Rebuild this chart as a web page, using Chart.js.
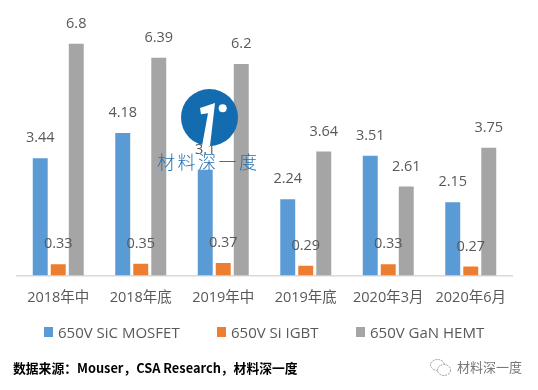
<!DOCTYPE html>
<html>
<head>
<meta charset="utf-8">
<script src="https://cdn.jsdelivr.net/npm/chart.js@4"></script>
<style>
  html, body { margin: 0; padding: 0; background: #fff; }
  #wrap { position: relative; width: 538px; height: 390px; overflow: hidden; font-family: "Open Sans", "Noto Sans CJK SC", sans-serif; }
  #chart { position: absolute; left: 0; top: 0; }
  .legend-item { position: absolute; top: 321px; height: 22px; line-height: 22px; font-size: 15px; color: #595959; white-space: nowrap; }
  .legend-item i { position: absolute; left: 0; top: 6px; width: 9px; height: 10px; }
  .legend-item span { position: absolute; left: 14px; }
  #source { position: absolute; left: 13px; top: 358px; font-family: "Noto Sans CJK SC", sans-serif; font-size: 12.8px; font-weight: 700; color: #000; white-space: nowrap; }
  #brand { position: absolute; left: 457px; top: 357px; font-family: "Noto Sans CJK SC", sans-serif; font-size: 13px; color: #777; white-space: nowrap; }
  #wechat { position: absolute; left: 429px; top: 358px; }
  #logo { position: absolute; left: 181px; top: 89px; }
  #logotext { position: absolute; left: 157px; top: 148px; font-family: "Noto Sans CJK SC", sans-serif; font-size: 18px; font-weight: 300; color: #1f70b4; letter-spacing: 2.5px; white-space: nowrap; }
</style>
</head>
<body>
<div id="wrap">
  <canvas id="chart" width="538" height="390"></canvas>
  <svg id="logo" width="57" height="57" viewBox="0 0 57 57">
    <circle cx="28.5" cy="28.5" r="28.5" fill="#146cb0"/>
    <path d="M19 19 L34 14 L29 57 L21 57 L27 24.3 L20 25.3 Z" fill="#fff"/>
    <circle cx="41.7" cy="19.3" r="4" fill="#fff"/>
  </svg>
  <div id="logotext">材料深一度</div>
  <div id="legend"></div>
  <div id="source">数据来源：Mouser，CSA Research，材料深一度</div>
  <svg id="wechat" width="24" height="20" viewBox="0 0 24 20" fill="none" stroke="#999" stroke-width="1" stroke-dasharray="2 1">
    <ellipse cx="8.5" cy="7" rx="7" ry="5.5"/>
    <ellipse cx="15" cy="12" rx="6.5" ry="5.5" fill="#fff"/>
  </svg>
  <div id="brand">材料深一度</div>
</div>
<script>
const CATEGORIES = ['2018年中', '2018年底', '2019年中', '2019年底', '2020年3月', '2020年6月'];
const SIC_VALUES = [3.44, 4.18, 3.1, 2.24, 3.51, 2.15];
const IGBT_VALUES = [0.33, 0.35, 0.37, 0.29, 0.33, 0.27];
const GAN_VALUES = [6.8, 6.39, 6.2, 3.64, 2.61, 3.75];

const FONT = '"Open Sans", "Noto Sans CJK SC", sans-serif';
const LEGEND_LEFT = [44, 217, 356];

const valueLabels = {
  id: 'valueLabels',
  afterDatasetsDraw(chart) {
    const { ctx } = chart;
    ctx.save();
    ctx.font = '14.5px ' + FONT;
    ctx.fillStyle = '#595959';
    ctx.textAlign = 'center';
    ctx.textBaseline = 'middle';
    chart.data.datasets.forEach((ds, i) => {
      chart.getDatasetMeta(i).data.forEach((bar, j) => {
        ctx.fillText(String(ds.data[j]), bar.x, bar.y - 20);
      });
    });
    ctx.restore();
  },
};

const chart = new Chart(document.getElementById('chart'), {
  type: 'bar',
  data: {
    labels: CATEGORIES,
    datasets: [
      { label: '650V SiC MOSFET', data: SIC_VALUES, backgroundColor: '#5b9bd5' },
      { label: '650V Si IGBT', data: IGBT_VALUES, backgroundColor: '#ed7d31' },
      { label: '650V GaN HEMT', data: GAN_VALUES, backgroundColor: '#a5a5a5' },
    ],
  },
  options: {
    responsive: false,
    animation: false,
    layout: { padding: { left: 17, right: 26, top: 30, bottom: 77 } },
    datasets: { bar: { categoryPercentage: 0.655, barPercentage: 0.83 } },
    plugins: {
      tooltip: { enabled: false },
      legend: { display: false },
    },
    scales: {
      x: {
        grid: { display: false },
        border: { color: '#d9d9d9', width: 1.5 },
        ticks: { color: '#595959', font: { family: FONT, size: 14.5 }, padding: 6, maxRotation: 0 },
      },
      y: { display: false, min: 0, max: 7.2 },
    },
  },
  plugins: [valueLabels],
});

document.getElementById('legend').innerHTML = chart.data.datasets.map((ds, i) => `
  <div class="legend-item" style="left:${LEGEND_LEFT[i]}px">
    <i style="background:${ds.backgroundColor}"></i><span>${ds.label}</span>
  </div>`).join('');
</script>
</body>
</html>
